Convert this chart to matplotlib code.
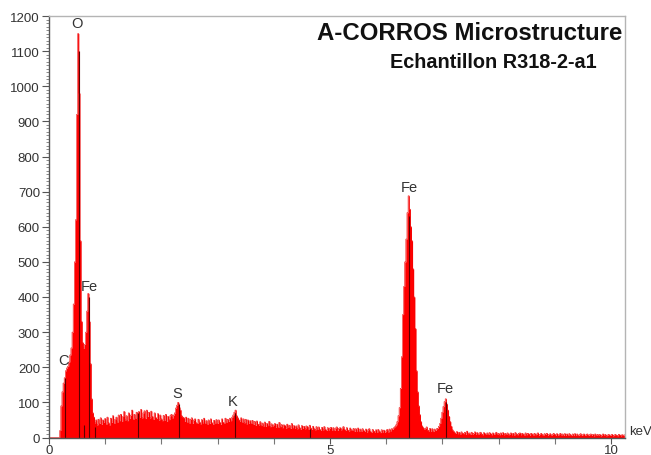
import numpy as np
import matplotlib
matplotlib.use("Agg")
import matplotlib.pyplot as plt
from matplotlib.ticker import MultipleLocator, FixedLocator

plt.rcParams['font.family'] = ['Liberation Sans', 'DejaVu Sans']

# ---- data -------------------------------------------------------------
E_START = 0.0
E_STEP = 0.02  # keV per channel
counts = [
    0, 0, 0, 0, 0, 0, 0, 0, 0, 0,
    20, 90, 130, 155, 170, 190, 198, 203, 215, 235,
    255, 300, 380, 500, 620, 920, 1150, 980, 560, 330,
    270, 255, 265, 300, 360, 410, 330, 210, 110, 70,
    58, 42, 50, 36, 52, 40, 56, 38, 50, 44,
    54, 38, 58, 42, 36, 55, 44, 62, 40, 52,
    58, 44, 64, 48, 66, 46, 60, 74, 50, 62,
    48, 70, 54, 64, 78, 52, 66, 55, 72, 53,
    74, 58, 80, 56, 70, 76, 54, 78, 60, 72,
    56, 75, 60, 52, 70, 57, 54, 68, 50, 64,
    53, 48, 63, 50, 66, 46, 60, 51, 62, 66,
    56, 64, 70, 84, 92, 100, 86, 78, 62, 58,
    56, 46, 58, 43, 55, 41, 52, 56, 40, 50,
    53, 42, 40, 52, 44, 39, 51, 42, 55, 40,
    48, 38, 50, 40, 53, 42, 37, 49, 41, 51,
    40, 50, 43, 38, 53, 43, 41, 55, 44, 52,
    46, 55, 48, 58, 64, 72, 78, 62, 56, 50,
    47, 56, 43, 53, 42, 52, 39, 50, 41, 48,
    40, 49, 37, 46, 35, 47, 38, 36, 45, 34,
    41, 33, 44, 32, 40, 34, 46, 31, 39, 33,
    36, 40, 30, 38, 29, 43, 31, 37, 28, 36,
    34, 27, 38, 30, 35, 26, 40, 28, 34, 27,
    33, 25, 36, 28, 24, 34, 26, 32, 25, 33,
    31, 24, 35, 27, 23, 32, 25, 22, 31, 24,
    30, 23, 21, 29, 22, 31, 23, 20, 28, 22,
    27, 29, 21, 28, 20, 27, 30, 21, 26, 28,
    22, 27, 31, 23, 20, 28, 21, 19, 27, 22,
    21, 26, 18, 25, 19, 27, 17, 24, 18, 25,
    20, 17, 24, 16, 22, 25, 17, 15, 23, 18,
    16, 22, 15, 23, 18, 14, 22, 16, 21, 15,
    19, 23, 16, 24, 19, 25, 24, 28, 31, 36,
    45, 62, 85, 140, 230, 350, 430, 500, 565, 640,
    688, 650, 600, 560, 480, 400, 310, 190, 130, 90,
    65, 45, 33, 28, 24, 26, 30, 21, 19, 26,
    18, 25, 17, 24, 20, 25, 26, 32, 40, 55,
    72, 88, 102, 110, 95, 78, 60, 45, 32, 22,
    18, 14, 12, 17, 11, 15, 10, 16, 12, 11,
    15, 10, 18, 11, 13, 9, 15, 10, 12, 16,
    10, 14, 9, 13, 15, 10, 8, 14, 11, 9,
    13, 9, 14, 11, 8, 13, 9, 11, 15, 9,
    12, 8, 13, 9, 14, 8, 12, 9, 13, 8,
    10, 13, 8, 12, 7, 14, 10, 8, 12, 13,
    8, 12, 10, 7, 13, 8, 12, 10, 7, 12,
    10, 7, 12, 8, 10, 13, 7, 9, 12, 8,
    7, 11, 9, 12, 7, 9, 11, 6, 9, 12,
    9, 7, 11, 6, 9, 12, 7, 10, 6, 11,
    7, 10, 6, 11, 8, 6, 10, 7, 11, 6,
    10, 6, 8, 11, 6, 8, 10, 6, 8, 10,
    6, 8, 10, 6, 9, 5, 10, 6, 9, 7,
    9, 5, 7, 10, 6, 9, 5, 7, 9, 6,
    7, 9, 5, 7, 9, 6, 5, 9, 7, 5,
    8, 6, 8,
]

# element marker lines (energy keV, height counts)
marker_energy = [0.277, 0.525, 0.615, 0.705, 0.81, 1.58, 2.307, 3.313, 4.64, 6.40, 7.06]
marker_height = [170, 1100, 35, 400, 30, 70, 95, 70, 25, 630, 100]

# peak labels
label_text = ["C", "O", "Fe", "S", "K", "Fe", "Fe"]
label_x = [0.25, 0.50, 0.71, 2.28, 3.27, 6.41, 7.06]
label_y = [221, 1181, 431, 127, 104, 714, 141]

title_main = "A-CORROS Microstructure"
title_sub = "Echantillon R318-2-a1"
x_major = [0, 5, 10]
x_minor = [1, 2, 3, 4, 6, 7, 8, 9]

# ---- figure -----------------------------------------------------------
fig = plt.figure(figsize=(6.51, 4.56), dpi=100)
ax = fig.add_axes([49 / 651, 1 - 438.5 / 456, (625 - 49) / 651, (438.5 - 17) / 456])

energy = E_START + E_STEP * np.arange(len(counts))
ax.fill_between(energy, counts, step='mid', color='#ff0000', lw=0)
ax.step(energy, counts, where='mid', color='#f00000', lw=0.4)

ax.vlines(marker_energy, 0, marker_height, colors='#5a0000', lw=0.8)

for t, x, y in zip(label_text, label_x, label_y):
    ax.text(x, y, t, ha='center', va='center', fontsize=10.5, color='#333333')

ax.set_xlim(0, 10.25)
ax.set_ylim(0, 1200)

ax.xaxis.set_major_locator(FixedLocator(x_major))
ax.xaxis.set_minor_locator(FixedLocator(x_minor))
ax.yaxis.set_major_locator(MultipleLocator(100))
ax.yaxis.set_minor_locator(MultipleLocator(10))

ax.tick_params(axis='both', which='major', direction='out', colors='#555555',
               labelcolor='#333333', labelsize=9.5, width=0.8)
ax.tick_params(axis='y', which='major', length=5, pad=1.5)
ax.tick_params(axis='y', which='minor', length=2.2, width=0.6, colors='#777777')
ax.tick_params(axis='x', which='major', length=4, pad=1)
ax.tick_params(axis='x', which='minor', length=4, width=0.8, colors='#777777')

for s in ['left', 'bottom']:
    ax.spines[s].set_color('#555555')
    ax.spines[s].set_linewidth(1.0)
for s in ['top', 'right']:
    ax.spines[s].set_color('#b4b4b4')
    ax.spines[s].set_linewidth(1.0)

ax.text(0.995, 0.9597, title_main, transform=ax.transAxes, ha='right', va='center',
        fontsize=17.3, fontweight='bold', color='#111111')
ax.text(0.951, 0.891, title_sub, transform=ax.transAxes, ha='right', va='center',
        fontsize=14.3, fontweight='bold', color='#111111')

fig.text(629 / 651, 1 - 432 / 456, "keV", ha='left', va='center', fontsize=9.5, color='#333333')

fig.savefig("out.png", dpi=100)
